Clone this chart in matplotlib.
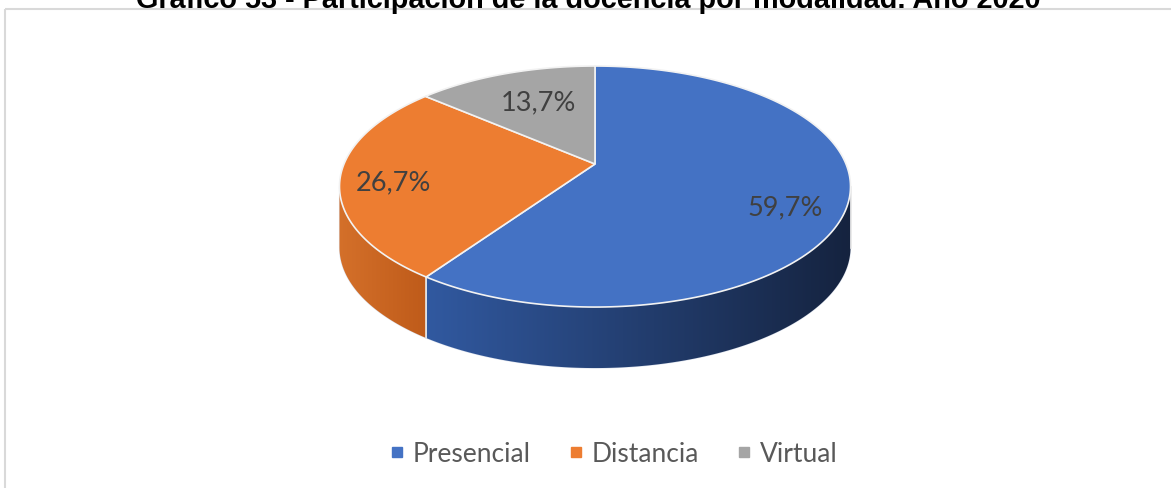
import numpy as np
import matplotlib.pyplot as plt
from matplotlib.patches import Polygon, Rectangle
from matplotlib.lines import Line2D
from matplotlib.colors import LinearSegmentedColormap

titulo = "Gráfico 53 - Participación de la docencia por modalidad. Año 2020"
categorias = ["Presencial", "Distancia", "Virtual"]
valores = [59.7, 26.7, 13.7]
etiquetas = ["59,7%", "26,7%", "13,7%"]
colores = ["#4472C4", "#ED7D31", "#A5A5A5"]
lado_izq = ["#3159A0", "#D4702A", "#8C8C8C"]
lado_der = ["#15233F", "#BF5B1A", "#6E6E6E"]

W, H = 1171, 489
fig = plt.figure(figsize=(W / 100, H / 100), dpi=100)
ax = fig.add_axes([0, 0, 1, 1])
ax.set_xlim(0, W)
ax.set_ylim(H, 0)
ax.axis("off")

# borde del area del grafico
ax.add_patch(Rectangle((5, 9.5), W + 20, H + 20, fill=False, ec="#D9D9D9", lw=1.5, zorder=0))

# pastel 3D con perspectiva
cx, cy = 595, 165      # vertice del pastel
A, B, k = 251, 116.3, 0.187
prof = 61

def punto(t, dy=0):
    # t en grados, sentido horario desde las 12
    r = np.radians(t)
    X, Z = np.sin(r), -np.cos(r)
    s = 1 / (1 - k * Z)
    return cx + A * X * s, cy + B * Z * s + dy

total = sum(valores)
bordes = np.concatenate([[0], np.cumsum(valores) / total * 360])
t_der = np.degrees(np.arccos(-k))
t_izq = 360 - t_der

# caras laterales (parte frontal visible)
for i in range(len(valores)):
    t0, t1 = max(bordes[i], t_der), min(bordes[i + 1], t_izq)
    if t1 <= t0:
        continue
    ts = np.linspace(t0, t1, 150)
    arriba = [punto(t) for t in ts]
    abajo = [punto(t, prof) for t in ts[::-1]]
    poly = Polygon(arriba + abajo, closed=True, fc="none", ec="#DDE3EE", lw=0.8, zorder=1)
    ax.add_patch(poly)
    xs = [p[0] for p in arriba]
    cmap = LinearSegmentedColormap.from_list("l", [lado_izq[i], lado_der[i]])
    grad = np.linspace(0, 1, 256).reshape(1, -1)
    im = ax.imshow(grad, cmap=cmap, aspect="auto",
                   extent=[min(xs), max(xs), cy + 260, cy - 20], zorder=1)
    im.set_clip_path(poly)
    ax.plot([xs[0], xs[0]], [arriba[0][1], arriba[0][1] + prof], color="#E8E8E8", lw=1.2, zorder=2)

# cara superior
for i in range(len(valores)):
    ts = np.linspace(bordes[i], bordes[i + 1], 200)
    pts = [(cx, cy)] + [punto(t) for t in ts]
    ax.add_patch(Polygon(pts, closed=True, fc=colores[i], ec="#F2F2F2", lw=1.2, zorder=3))

# etiquetas de datos
pos_etq = [(785, 208), (393, 183), (538, 103)]
for (x, y), txt in zip(pos_etq, etiquetas):
    ax.text(x, y, txt, ha="center", va="center", fontsize=19.5, color="#404040",
            family="Lato", zorder=4)

# titulo (cortado en el borde superior, como en el original)
ax.text(588, 8, titulo, ha="center", va="baseline", fontsize=20.8, fontweight="bold",
        family="Liberation Sans", color="black", zorder=5)

# leyenda
handles = [Line2D([], [], marker="s", ls="none", color=c, markersize=7) for c in colores]
leg = ax.legend(handles, categorias, loc="center", bbox_to_anchor=(612 / W, 1 - 455 / H),
                ncol=3, frameon=False, handletextpad=0.2, columnspacing=1.3, handlelength=0.8,
                prop={"family": "Lato", "size": 19})
for t in leg.get_texts():
    t.set_color("#595959")

fig.savefig("out.png", dpi=100)
